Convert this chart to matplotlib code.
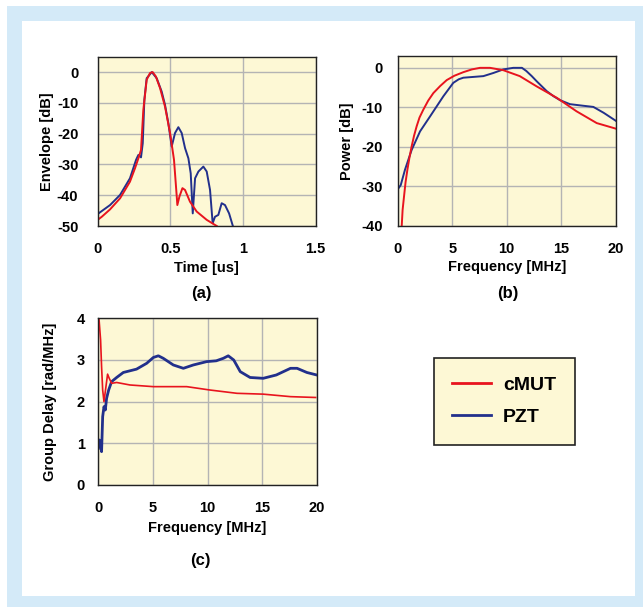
import matplotlib
matplotlib.use('Agg')
import matplotlib.pyplot as plt
from matplotlib.patches import Rectangle

plt.rcParams['font.family'] = ['Liberation Sans', 'DejaVu Sans']
plt.rcParams['font.weight'] = 'bold'
plt.rcParams['axes.unicode_minus'] = False

RED = '#e8141e'
BLUE = '#22308c'
PANEL_BG = '#fdf8d5'
FRAME = '#d4eaf8'

# (a) envelope [dB] vs time [us]
t_cmut = [0.0, 0.028, 0.085, 0.154, 0.222, 0.257, 0.28, 0.298, 0.314, 0.337, 0.36, 0.378,
          0.40, 0.429, 0.463, 0.498, 0.525, 0.544, 0.548, 0.562, 0.583, 0.601, 0.635,
          0.681, 0.75, 0.819]
env_cmut = [-48, -47, -44.6, -41, -35.6, -31.2, -28, -25.3, -12.3, -2.5, -0.3, 0,
            -1.4, -5.2, -11.2, -19.8, -28.5, -40.5, -43.2, -40.5, -37.7, -38.3, -42.1,
            -45.3, -48, -50]
t_pzt = [0.0, 0.085, 0.154, 0.222, 0.264, 0.28, 0.298, 0.31, 0.321, 0.337, 0.372, 0.406,
         0.44, 0.463, 0.486, 0.509, 0.532, 0.555, 0.578, 0.601, 0.624, 0.64, 0.654,
         0.67, 0.693, 0.727, 0.75, 0.773, 0.791, 0.807, 0.83, 0.853, 0.876, 0.904, 0.93]
env_pzt = [-46.1, -43.2, -39.9, -34.5, -28.5, -26.9, -27.7, -23.1, -9, -2, 0, -2,
           -6.3, -10.6, -16.6, -24.2, -19.8, -17.9, -19.8, -24.7, -28, -32.9, -45.9,
           -34.5, -32.3, -30.7, -32.3, -38.3, -49.1, -47, -46.4, -42.6, -43.2, -45.9, -50]

# (b) power [dB] vs frequency [MHz]
f_pow_cmut = [0.37, 0.45, 0.58, 0.72, 0.89, 1.08, 1.28, 1.5, 1.74, 2.0, 2.35, 2.8, 3.27,
              3.9, 4.5, 5.2, 6.02, 6.8, 7.55, 8.47, 9.69, 11.2, 12.75, 14.6, 16.4,
              18.26, 20]
pow_cmut = [-40, -36, -32.6, -29, -25.8, -22.7, -19.9, -17.2, -14.8, -12.6, -10.6, -8.3,
            -6.4, -4.6, -3.1, -2.0, -1.1, -0.4, 0, 0, -0.6, -2.1, -4.7, -7.6, -11,
            -14, -15.4]
f_pow_pzt = [0, 0.28, 0.67, 1.28, 2.05, 2.97, 4.19, 5.1, 5.6, 6.02, 6.94, 7.86, 8.78,
             9.69, 10.6, 11.4, 11.8, 12.3, 12.75, 13.67, 14.3, 14.9, 15.8, 17.0, 17.95,
             18.9, 20]
pow_pzt = [-30.8, -29.7, -25.8, -20.8, -16.1, -12.3, -7.2, -3.8, -2.9, -2.5, -2.3, -2.1,
           -1.3, -0.4, 0, 0, -0.8, -2.1, -3.4, -5.9, -7.2, -8.2, -9.2, -9.6, -9.9,
           -11.4, -13.4]

# (c) group delay [rad/MHz] vs frequency [MHz]
f_gd_cmut = [0.06, 0.21, 0.3, 0.4, 0.52, 0.7, 0.85, 1.0, 1.22, 1.68, 2.9, 5.04, 8.1,
             10.2, 12.7, 15.1, 17.6, 19.9]
gd_cmut = [4.0, 3.48, 2.84, 2.28, 2.0, 2.36, 2.66, 2.56, 2.44, 2.46, 2.4, 2.36, 2.36,
           2.28, 2.2, 2.18, 2.12, 2.1]
f_gd_pzt = [0, 0.09, 0.21, 0.3, 0.4, 0.52, 0.64, 0.76, 0.95, 1.22, 1.68, 2.29, 3.5,
            4.43, 5.04, 5.5, 5.95, 6.87, 7.79, 8.7, 9.92, 10.8, 11.45, 11.9, 12.4,
            13.0, 13.9, 15.1, 16.3, 17.6, 18.2, 19.1, 20]
gd_pzt = [0.88, 1.08, 1.0, 0.8, 1.64, 1.88, 1.8, 2.08, 2.28, 2.48, 2.58, 2.7, 2.78,
          2.92, 3.06, 3.1, 3.04, 2.88, 2.8, 2.88, 2.96, 2.98, 3.04, 3.1, 3.0,
          2.72, 2.58, 2.56, 2.64, 2.8, 2.8, 2.7, 2.64]

W, H = 643, 607
fig = plt.figure(figsize=(W / 100, H / 100), dpi=100)
fig.patch.set_facecolor('white')
fig.patches.append(Rectangle((6.5 / W, 0), 1, 1 - 6 / H, transform=fig.transFigure,
                             facecolor=FRAME, edgecolor='none', zorder=-2))
fig.patches.append(Rectangle((21.7 / W, 1 - 595.7 / H), (635 - 21.7) / W, (595.7 - 21) / H,
                             transform=fig.transFigure, facecolor='white',
                             edgecolor='none', zorder=-1))

TICK_FS = 10.5
LABEL_FS = 10.5


def make_axes(left, top, right, bottom, ypad):
    ax = fig.add_axes([left / W, 1 - bottom / H, (right - left) / W, (bottom - top) / H])
    ax.set_facecolor(PANEL_BG)
    ax.grid(True, color='#b4b4b4', lw=1)
    ax.set_axisbelow(True)
    for s in ax.spines.values():
        s.set_color('#222222')
        s.set_linewidth(1)
    ax.tick_params(length=0, labelsize=TICK_FS)
    ax.tick_params(axis='x', pad=11.5)
    ax.tick_params(axis='y', pad=ypad)
    return ax


ax1 = make_axes(97.7, 56.7, 315.7, 226, 14)
ax1.plot(t_pzt, env_pzt, color=BLUE, lw=1.4)
ax1.plot(t_cmut, env_cmut, color=RED, lw=1.4)
ax1.set_xlim(0, 1.5)
ax1.set_ylim(-50, 5)
ax1.set_xticks([0, 0.5, 1, 1.5])
ax1.set_xticklabels(['0', '0.5', '1', '1.5'])
ax1.set_yticks([0, -10, -20, -30, -40, -50])
ax1.set_xlabel('Time [us]', fontsize=LABEL_FS, fontweight='bold')
ax1.set_ylabel('Envelope [dB]', fontsize=LABEL_FS, fontweight='bold')
ax1.xaxis.set_label_coords(0.5, -0.204)
ax1.yaxis.set_label_coords(-0.2, 0.5)

ax2 = make_axes(397.7, 56, 615.7, 225.7, 10.5)
ax2.plot(f_pow_pzt, pow_pzt, color=BLUE, lw=1.4)
ax2.plot(f_pow_cmut, pow_cmut, color=RED, lw=1.4)
ax2.set_xlim(0, 20)
ax2.set_ylim(-40, 3)
ax2.set_xticks([0, 5, 10, 15, 20])
ax2.set_yticks([0, -10, -20, -30, -40])
ax2.set_xlabel('Frequency [MHz]', fontsize=LABEL_FS, fontweight='bold')
ax2.set_ylabel('Power [dB]', fontsize=LABEL_FS, fontweight='bold')
ax2.xaxis.set_label_coords(0.5, -0.205)
ax2.yaxis.set_label_coords(-0.2, 0.5)

ax3 = make_axes(98.3, 318.3, 316.7, 485, 9.5)
l_pzt, = ax3.plot(f_gd_pzt, gd_pzt, color=BLUE, lw=2.0)
l_cmut, = ax3.plot(f_gd_cmut, gd_cmut, color=RED, lw=1.2)
ax3.set_xlim(0, 20)
ax3.set_ylim(0, 4)
ax3.set_xticks([0, 5, 10, 15, 20])
ax3.set_yticks([0, 1, 2, 3, 4])
ax3.set_xlabel('Frequency [MHz]', fontsize=LABEL_FS, fontweight='bold')
ax3.set_ylabel('Group Delay [rad/MHz]', fontsize=LABEL_FS, fontweight='bold')
ax3.xaxis.set_label_coords(0.5, -0.216)
ax3.yaxis.set_label_coords(-0.19, 0.5)

for ax in (ax1, ax2, ax3):
    for lab in ax.get_xticklabels() + ax.get_yticklabels():
        lab.set_fontweight('bold')

fig.text(201 / W, 1 - 293.5 / H, '(a)', fontsize=12, fontweight='bold', ha='center', va='center')
fig.text(508 / W, 1 - 294 / H, '(b)', fontsize=12, fontweight='bold', ha='center', va='center')
fig.text(200 / W, 1 - 561 / H, '(c)', fontsize=12, fontweight='bold', ha='center', va='center')

leg = fig.legend([l_cmut, l_pzt], ['cMUT', 'PZT'], loc='upper left',
                 bbox_to_anchor=(434 / W, 1 - 358 / H), borderaxespad=0,
                 prop={'size': 14, 'weight': 'bold'}, handlelength=2.0,
                 handletextpad=0.6, borderpad=0.95, labelspacing=0.75,
                 fancybox=False, framealpha=1)
leg.get_frame().set_facecolor(PANEL_BG)
leg.get_frame().set_edgecolor('#222222')
leg.get_frame().set_linewidth(1.2)
for ln in leg.get_lines():
    ln.set_linewidth(2.0)

fig.savefig('out.png', dpi=100)
